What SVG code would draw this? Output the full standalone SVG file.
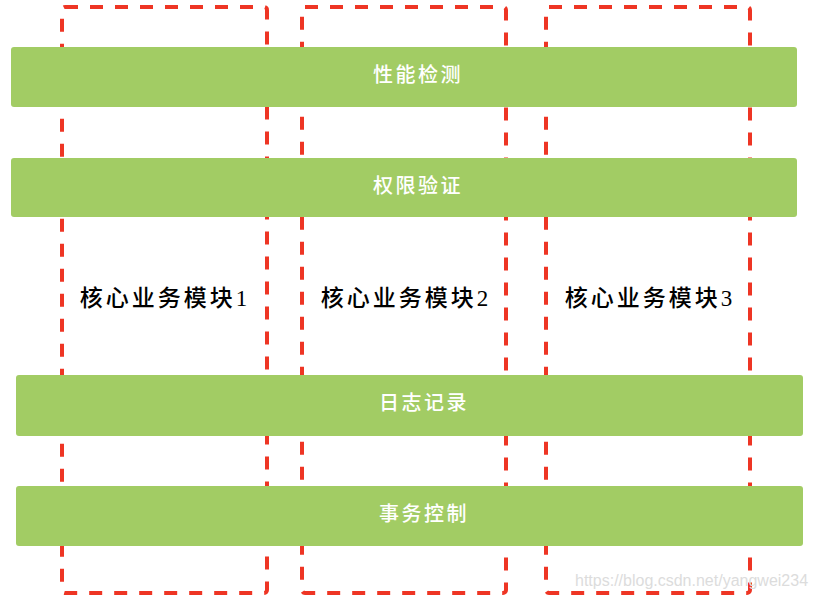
<svg xmlns="http://www.w3.org/2000/svg" width="816" height="597" viewBox="0 0 816 597">
<style>
.col{fill:none;stroke:#ee3524;stroke-width:4;stroke-dasharray:13 12;}
.bar{fill:#a2cc64;}
.bt{fill:#ffffff;font-family:"Liberation Serif","Noto Sans CJK SC",serif;font-size:20px;font-weight:500;text-anchor:middle;letter-spacing:2.5px;}
.mt{fill:#000000;font-family:"Liberation Serif","Noto Sans CJK SC",serif;font-size:23px;font-weight:500;text-anchor:middle;letter-spacing:3px;}
.wm{fill:#dcdcdc;font-family:"Liberation Sans",Arial,sans-serif;font-size:16px;}
</style>
<rect width="816" height="597" fill="#ffffff"/>
<g id="columns">
<g id="module1"><rect class="col" x="62" y="7" width="205" height="586" rx="3"/><text class="mt" x="165" y="306">核心业务模块1</text></g>
<g id="module2"><rect class="col" x="302" y="7" width="204" height="586" rx="3"/><text class="mt" x="406" y="306">核心业务模块2</text></g>
<g id="module3"><rect class="col" x="546" y="7" width="204" height="586" rx="3"/><text class="mt" x="650" y="306">核心业务模块3</text></g>
</g>
<g id="bar-perf"><rect class="bar" x="11" y="47" width="786" height="60" rx="3"/><text class="bt" x="418" y="82">性能检测</text></g>
<g id="bar-auth"><rect class="bar" x="11" y="158" width="786" height="59" rx="3"/><text class="bt" x="418" y="193">权限验证</text></g>
<g id="bar-log"><rect class="bar" x="16" y="375" width="787" height="61" rx="3"/><text class="bt" x="424" y="410">日志记录</text></g>
<g id="bar-tx"><rect class="bar" x="16" y="486" width="787" height="60" rx="3"/><text class="bt" x="424" y="521">事务控制</text></g>
<text class="wm" x="575" y="586">https://blog.csdn.net/yangwei234</text>
</svg>
